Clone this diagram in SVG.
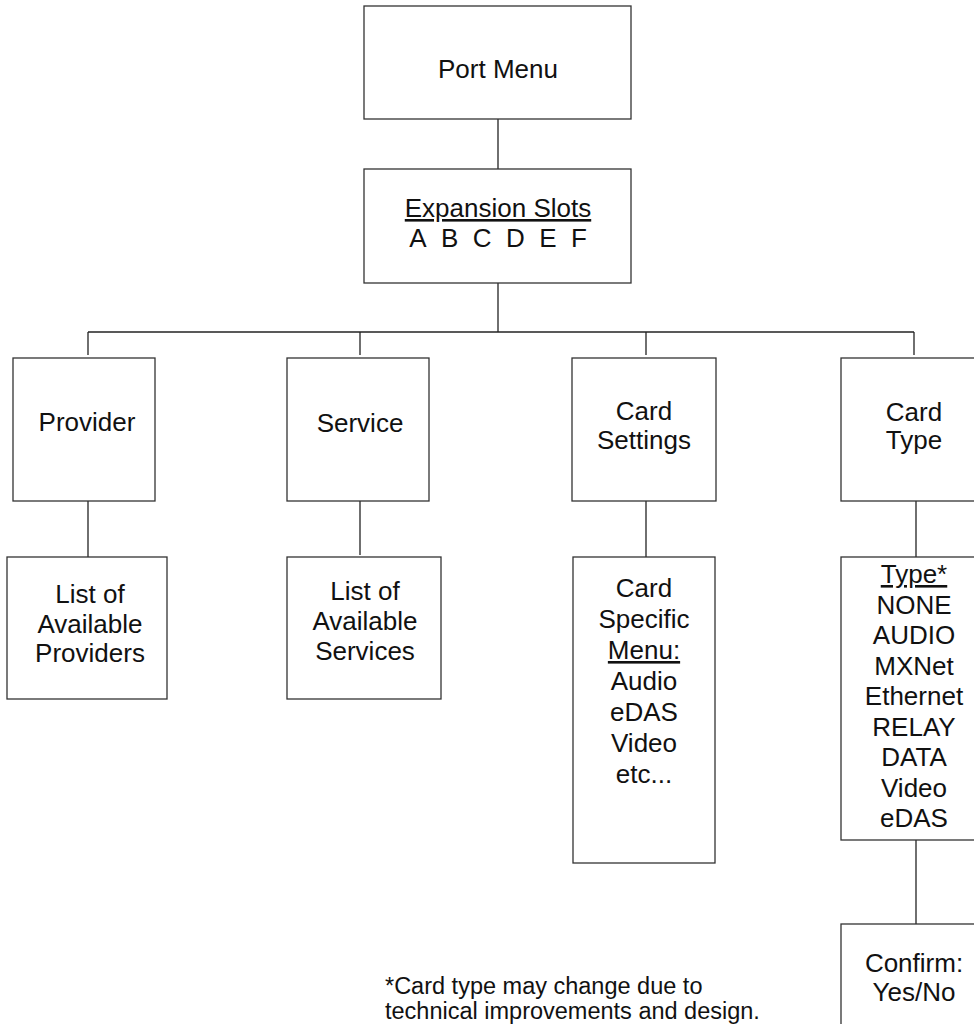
<svg xmlns="http://www.w3.org/2000/svg" width="974" height="1024" viewBox="0 0 974 1024">
  <style>
    .box { fill: #ffffff; stroke: #333333; stroke-width: 1.3; }
    .wire { fill: none; stroke: #222222; stroke-width: 1.3; }
    .lbl { font-family: "Liberation Sans", Arial, Helvetica, sans-serif; font-size: 26px; fill: #111111; text-anchor: middle; }
    .note { font-family: "Liberation Sans", Arial, Helvetica, sans-serif; font-size: 23.5px; fill: #111111; }
    .u { text-decoration: underline; }
  </style>
  <rect x="0" y="0" width="974" height="1024" fill="#ffffff"/>

  <!-- connectors -->
  <g id="connectors">
    <line class="wire" x1="498" y1="119" x2="498" y2="169"/>
    <line class="wire" x1="498" y1="283" x2="498" y2="332"/>
    <line class="wire" x1="88" y1="332" x2="914" y2="332"/>
    <line class="wire" x1="88" y1="332" x2="88" y2="355"/>
    <line class="wire" x1="360" y1="332" x2="360" y2="355"/>
    <line class="wire" x1="646" y1="332" x2="646" y2="355"/>
    <line class="wire" x1="914" y1="332" x2="914" y2="355"/>
    <line class="wire" x1="88" y1="501" x2="88" y2="557"/>
    <line class="wire" x1="360" y1="499" x2="360" y2="555"/>
    <line class="wire" x1="646" y1="499" x2="646" y2="557"/>
    <line class="wire" x1="916" y1="499" x2="916" y2="557"/>
    <line class="wire" x1="916" y1="840" x2="916" y2="924"/>
  </g>

  <g id="port-menu">
    <rect class="box" x="364" y="6" width="267" height="113"/>
    <text class="lbl" x="498" y="78">Port Menu</text>
  </g>

  <g id="expansion-slots">
    <rect class="box" x="364" y="169" width="267" height="114"/>
    <text class="lbl" x="498" y="217"><tspan class="u">Expansion Slots</tspan></text>
    <text class="lbl" x="498" y="247">A&#160; B&#160; C&#160; D&#160; E&#160; F</text>
  </g>

  <g id="provider">
    <rect class="box" x="13" y="358" width="142" height="143"/>
    <text class="lbl" x="87" y="431">Provider</text>
  </g>

  <g id="service">
    <rect class="box" x="287" y="358" width="142" height="143"/>
    <text class="lbl" x="360" y="432">Service</text>
  </g>

  <g id="card-settings">
    <rect class="box" x="572" y="358" width="144" height="143"/>
    <text class="lbl" x="644" y="420">Card</text>
    <text class="lbl" x="644" y="449">Settings</text>
  </g>

  <g id="card-type">
    <rect class="box" x="841" y="358" width="146" height="143"/>
    <text class="lbl" x="914" y="421">Card</text>
    <text class="lbl" x="914" y="449">Type</text>
  </g>

  <g id="provider-list">
    <rect class="box" x="7" y="557" width="160" height="142"/>
    <text class="lbl" x="90" y="603">List of</text>
    <text class="lbl" x="90" y="633">Available</text>
    <text class="lbl" x="90" y="662">Providers</text>
  </g>

  <g id="service-list">
    <rect class="box" x="287" y="557" width="154" height="142"/>
    <text class="lbl" x="365" y="600">List of</text>
    <text class="lbl" x="365" y="630">Available</text>
    <text class="lbl" x="365" y="660">Services</text>
  </g>

  <g id="card-specific-menu">
    <rect class="box" x="573" y="557" width="142" height="306"/>
    <text class="lbl" x="644" y="597">Card</text>
    <text class="lbl" x="644" y="628">Specific</text>
    <text class="lbl" x="644" y="659"><tspan class="u">Menu:</tspan></text>
    <text class="lbl" x="644" y="690">Audio</text>
    <text class="lbl" x="644" y="721">eDAS</text>
    <text class="lbl" x="644" y="752">Video</text>
    <text class="lbl" x="644" y="783">etc...</text>
  </g>

  <g id="type-list">
    <rect class="box" x="841" y="557" width="146" height="283"/>
    <text class="lbl" x="914" y="583"><tspan class="u">Type*</tspan></text>
    <text class="lbl" x="914" y="613.5">NONE</text>
    <text class="lbl" x="914" y="644">AUDIO</text>
    <text class="lbl" x="914" y="674.5">MXNet</text>
    <text class="lbl" x="914" y="705">Ethernet</text>
    <text class="lbl" x="914" y="735.5">RELAY</text>
    <text class="lbl" x="914" y="766">DATA</text>
    <text class="lbl" x="914" y="796.5">Video</text>
    <text class="lbl" x="914" y="827">eDAS</text>
  </g>

  <g id="confirm">
    <rect class="box" x="841" y="924" width="146" height="130"/>
    <text class="lbl" x="914" y="972">Confirm:</text>
    <text class="lbl" x="914" y="1001">Yes/No</text>
  </g>

  <g id="footnote">
    <text class="note" x="385" y="994">*Card type may change due to</text>
    <text class="note" x="385" y="1019">technical improvements and design.</text>
  </g>
</svg>
